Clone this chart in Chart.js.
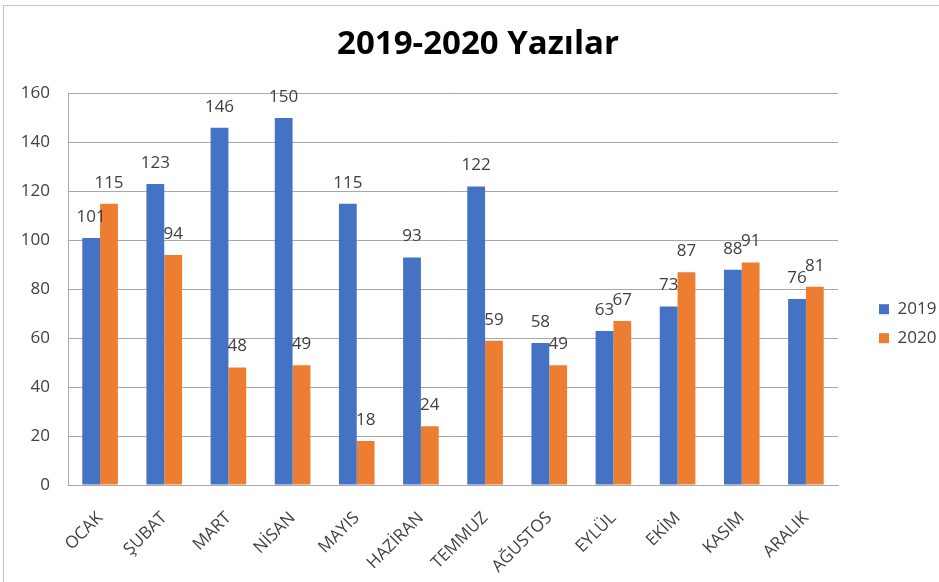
<!DOCTYPE html>
<html>
<head>
<meta charset="utf-8">
<script src="https://cdn.jsdelivr.net/npm/chart.js@4"></script>
<style>
  html, body { margin: 0; padding: 0; background: #fff; overflow: hidden; }
  #frame {
    position: absolute; left: 3px; top: 5px; width: 1000px; height: 1000px;
    border-left: 1px solid #c4c4c4; border-top: 1px solid #c4c4c4;
  }
  #chart { position: absolute; left: 0; top: 0; }
</style>
</head>
<body>
<div id="frame"></div>
<canvas id="chart" width="939" height="582"></canvas>
<script>
const months = ['OCAK', 'ŞUBAT', 'MART', 'NİSAN', 'MAYIS', 'HAZİRAN', 'TEMMUZ', 'AĞUSTOS', 'EYLÜL', 'EKİM', 'KASIM', 'ARALIK'];
const posts2019 = [101, 123, 146, 150, 115, 93, 122, 58, 63, 73, 88, 76];
const posts2020 = [115, 94, 48, 49, 18, 24, 59, 49, 67, 87, 91, 81];
const yTicks = [0, 20, 40, 60, 80, 100, 120, 140, 160];

const TEXT = '#404040';
const GRID = '#a8a8a8';

Chart.defaults.font.family = '"Open Sans", sans-serif';
Chart.defaults.color = TEXT;

// value above each bar
const barValueLabels = {
    id: 'barValueLabels',
    afterDatasetsDraw(chart) {
        const ctx = chart.ctx;
        ctx.save();
        ctx.font = '17px "Open Sans"';
        ctx.fillStyle = TEXT;
        ctx.textAlign = 'center';
        ctx.textBaseline = 'middle';
        chart.data.datasets.forEach((ds, i) => {
            chart.getDatasetMeta(i).data.forEach((bar, j) => {
                ctx.fillText(ds.data[j], bar.x, bar.y - 21);
            });
        });
        ctx.restore();
    }
};

new Chart(document.getElementById('chart'), {
    type: 'bar',
    data: {
        labels: months,
        datasets: [
            { label: '2019', data: posts2019, backgroundColor: '#4472C4', yAxisID: 'y' },
            { label: '2020', data: posts2020, backgroundColor: '#ED7D31', yAxisID: 'y' }
        ]
    },
    options: {
        responsive: false,
        animation: false,
        datasets: { bar: { categoryPercentage: 0.555, barPercentage: 1 } },
        layout: { padding: { left: 17, right: 0, top: 0, bottom: 0 } },
        scales: {
            x: {
                grid: { display: false },
                border: { display: true, color: GRID },
                ticks: { font: { size: 17 }, color: TEXT, minRotation: 45, maxRotation: 45, autoSkip: false, padding: 15 },
                afterFit: (s) => { s.height = 97; }
            },
            y: {
                min: 0,
                max: 160,
                afterBuildTicks: (s) => { s.ticks = yTicks.map(v => ({ value: v })); },
                grid: { color: GRID, drawTicks: false },
                border: { display: true, color: GRID },
                ticks: { font: { size: 17 }, color: TEXT, padding: 18 },
                afterFit: (s) => { s.width = 51; }
            },
            // empty space between plot and legend
            gap: {
                type: 'linear',
                position: 'right',
                display: true,
                grid: { display: false },
                border: { display: false },
                ticks: { display: false },
                afterFit: (s) => { s.width = 29; }
            }
        },
        plugins: {
            title: {
                display: true,
                text: '2019-2020 Yazılar',
                color: '#000',
                font: { size: 33, weight: 'bold' },
                padding: { top: 25, bottom: 29 }
            },
            legend: {
                position: 'right',
                maxWidth: 72,
                title: { display: true, text: '', padding: { top: 51, bottom: 0 } },
                labels: { boxWidth: 10, boxHeight: 10, padding: 12, font: { size: 17 }, color: TEXT }
            },
            tooltip: { enabled: false }
        }
    },
    plugins: [barValueLabels]
});
</script>
</body>
</html>
